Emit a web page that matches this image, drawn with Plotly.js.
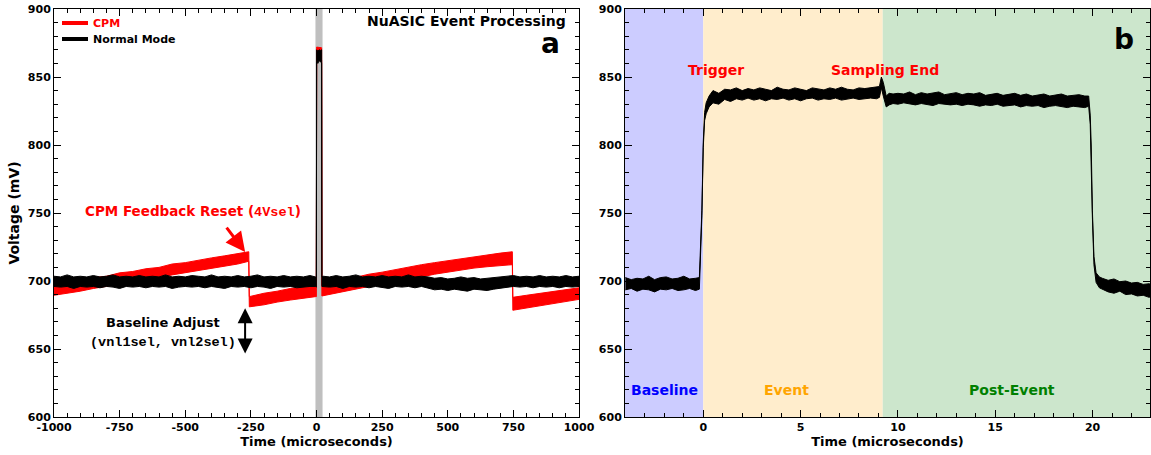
<!DOCTYPE html>
<html><head><meta charset="utf-8">
<script src="https://cdn.plot.ly/plotly-3.0.1.min.js"></script>
<style>html,body{margin:0;padding:0;background:#fff}#chart{width:1151px;height:455px}</style>
</head><body><div id="chart"></div>
<script>
// ---------- Panel a : CPM vs Normal Mode (noise band edges, mV) ----------
const normT = [-1000,-975,-950,-925,-900,-875,-850,-825,-800,-775,-750,-725,-700,-675,-650,-625,-600,-575,-550,-525,-500,-475,-450,-425,-400,-375,-350,-325,-300,-275,-250,-225,-200,-175,-150,-125,-100,-75,-50,-25,
  -4,-0.5,0.5,5,10,15,19.5,20.5,
  25,50,75,100,125,150,175,200,225,250,275,300,325,350,375,400,425,450,475,500,525,550,575,600,625,650,675,700,725,750,775,800,825,850,875,900,925,950,975,1000];
const normHi = [703.5,703,704.5,703,703.5,703,704,703,703.5,704.5, 703,703.5,703,704,703,703.5,703,704.5,703,703.5, 703,704,703.5,703,704.5,703,703.5,703,704,703, 703.5,704.5,703,703.5,703,704,703,703.5,703,704,
  703,703.5,870,869,870,869.5,870,703,
  703.5,703,704,703,703.5,704.5,703,703.5,703,704, 703,703.5,703,704.5,703,703.5,703,702,702.5,701.5, 702,703,702,702.5,701.5,702,702.5,703,703.5,704, 703,703.5,703,704,703,703.5,703,704,703,703.5];
const normLo = [696,695.5,696,694.5,696,695.5,696,695,696,695.5, 694.5,696,695.5,696,695,696,695.5,696,694.5,695.5, 696,695.5,696,695,696,695.5,694.5,696,695.5,696, 695,696,695.5,694.5,696,695.5,696,695,695.5,696,
  696,695.5,861,860,862,861,860.5,696,
  696,695.5,696,694.5,696,695.5,696,695,696,695.5, 694.5,696,695.5,696,695,696,695,693.5,694,693, 694,693.5,692.5,694,693.5,693,694,695,695.5,696, 695.5,696,695,696,695.5,696,695,696,695.5,696];

const cpmT  = [-1000,-950,-900,-850,-800,-750,-700,-650,-600,-550,-500,-450,-400,-350,-300,-258,
  -256,-200,-150,-100,-50,-4,-0.5,0.5,10,19.5,20.5,50,100,150,200,250,300,350,400,450,500,550,600,650,700,746,
  748,800,850,900,950,1000];
const cpmHi = [697,699.5,700,702.5,703.5,706,707,709,710,712.5,713.5,715.5,717,718.5,720,721.5,
  688.5,691,692.5,694.5,695.5,696.5,696.5,872,872,871.5,697,699,700.5,703,705,706.5,708.5,710,712,713.5,715,716.5,717.5,719.5,720.5,721.5,
  688,689.5,691,692.5,694,695];
const cpmLo = [689.5,691,692.5,694.5,696,698,699.5,701,702.5,704.5,706,707.5,709.5,711,712.5,714.5,
  681,682.5,684.5,686,687.5,688.5,688.5,863,862,862.5,689,690.5,692.5,694,696,698,699.5,701.5,703,705,707,708,709.5,710.5,711.5,712,
  678.5,680,681.5,683.5,685,686.5];

const aTickVals = [-1000,-750,-500,-250,0,250,500,750,1000];
const aTickText = ['-1000','-750','-500','-250','0','250','500','750','1000'];

// ---------- Panel b : single event trace (noise band edges, mV) ----------
const evT = [-4.0,-3.7,-3.4,-3.1,-2.8,-2.5,-2.2,-1.9,-1.6,-1.3,-1.0,-0.7,-0.4,-0.2,
  -0.07,0.0,0.07,0.15,0.3,0.5,
  0.8,1.1,1.4,1.7,2.0,2.3,2.6,2.9,3.2,3.5,3.8,4.1,4.4,4.7,5.0,5.3,5.6,5.9,6.2,6.5,6.8,7.1,7.4,7.7,8.0,8.3,8.6,8.9,
  9.05,9.15,9.25,9.4,9.55,9.75,
  10.0,10.3,10.6,10.9,11.2,11.5,11.8,12.1,12.4,12.7,13.0,13.3,13.6,13.9,14.2,14.5,14.8,15.1,15.4,15.7,16.0,16.3,16.6,16.9,17.2,17.5,17.8,18.1,18.4,18.7,19.0,19.3,19.6,
  19.8,19.88,19.93,19.99,20.07,20.18,20.35,20.5,
  20.8,21.1,21.4,21.7,22.0,22.3,22.6,22.9,23.0];
const evHi = [702.5,701,702,701.5,703.5,701,702.5,703,701.5,702,703.5,701.5,702,702.5,
  752,802,824,831,836,840,
  838,841,840.5,842,840,841.5,840.5,842,841,840,842.5,841,840.5,842,841,840,842,841.5,840.5,842,841,842.5,841,840.5,842,841.5,842,842.5,
  843,850,846,836,838,837.5,
  838,837.5,839,837,838.5,837.5,838,839,837,837.5,838.5,837,838,837.5,838.5,836.5,837.5,838,836.5,837,838,836.5,837.5,836,837,837.5,836,836.5,837.5,836,836.5,837,836,
  836,822,800,752,718,706,703,702,
  700.5,701.5,699.5,700,698.5,699,697.5,698,697.5];
const evLo = [693.5,694.5,692.5,694,693.5,692,694,693.5,694.5,693,693.5,694.5,693,694,
  748,798,818,823,828,831,
  830,833.5,832,834,833,834.5,833,834,832.5,834,833.5,834.5,833,834,832.5,834,834.5,833,834,833.5,834.5,833,834,834.5,833.5,834,834.5,834,
  835,842,836,828,829.5,830.5,
  830,831,830.5,829.5,830.5,830,829,830.5,830,829.5,830,829,830,829.5,828.5,829.5,829,830,828.5,829,829.5,828,829,828.5,829,827.5,828.5,829,828,827.5,828.5,828,827.5,
  828.5,815,795,747,712,699,695,694,
  692,691,692.5,690,690.5,689,689.5,688,688.5];

const phaseNames = ['Baseline','Event','Post-Event'];
const phaseStart = [-4.5, 0, 9.22];
const phaseEnd   = [0, 9.22, 24];
const eventWindow = [-4, 23];   // panel-b span shown as grey band in panel a

// ---------- build ----------
function band(t, hi, lo, color, xa, ya) {
  return {
    x: t.concat(t.slice().reverse()),
    y: hi.concat(lo.slice().reverse()),
    type: 'scatter', mode: 'lines', fill: 'toself', fillcolor: color,
    line: {color: color, width: 1}, xaxis: xa, yaxis: ya,
    showlegend: false, hoverinfo: 'skip'
  };
}
const traces = [
  band(cpmT, cpmHi, cpmLo, '#ff0000', 'x', 'y'),
  band(normT, normHi, normLo, '#000000', 'x', 'y'),
  band(evT, evHi, evLo, '#000000', 'x2', 'y2')
];

const FONT = 'DejaVu Sans';
const W = 1151, H = 455;
const px = v => v / W, py = v => 1 - v / H;

function axisBase() {
  return {
    showline: true, linecolor: 'black', linewidth: 1, mirror: 'allticks',
    ticks: 'inside', ticklen: 7, tickwidth: 1, tickcolor: 'black',
    showgrid: false, zeroline: false, automargin: false,
    tickfont: {family: FONT, size: 11, weight: 'bold', color: 'black'},
    minor: {ticks: 'inside', ticklen: 4, tickwidth: 1, tickcolor: 'black', showgrid: false}
  };
}
const yDom = [38 / H, 446 / H];
const xTitle = () => ({text: 'Time (microseconds)', standoff: 2, font: {family: FONT, size: 13, weight: 'bold', color: 'black'}});
const xaxis = Object.assign(axisBase(), {
  domain: [54 / W, 579 / W], range: [-1000, 1000], anchor: 'y',
  tickmode: 'array', tickvals: aTickVals, ticktext: aTickText, title: xTitle()
});
xaxis.minor.tick0 = 0; xaxis.minor.dtick = 50;
const yaxis = Object.assign(axisBase(), {
  domain: yDom, range: [600, 900], anchor: 'x', tick0: 600, dtick: 50,
  title: {text: 'Voltage (mV)', standoff: 4, font: {family: FONT, size: 14, weight: 'bold', color: 'black'}}
});
yaxis.minor.dtick = 10;
const xaxis2 = Object.assign(axisBase(), {
  domain: [625 / W, 1150 / W], range: [-4.02, 22.95], anchor: 'y2', tick0: 0, dtick: 5, title: xTitle()
});
xaxis2.minor.tick0 = 0; xaxis2.minor.dtick = 1;
const yaxis2 = Object.assign(axisBase(), {
  domain: yDom, range: [600, 900], anchor: 'x2', tick0: 600, dtick: 50
});
yaxis2.minor.dtick = 10;

const phaseColors = ['rgb(204,204,255)', 'rgb(255,237,204)', 'rgb(204,230,204)'];
const phaseText = ['#0000ff', '#ffa500', '#008000'];

const shapes = [
  {type: 'rect', xref: 'x', yref: 'y domain', x0: eventWindow[0], x1: eventWindow[1], y0: 0, y1: 1,
   fillcolor: '#bfbfbf', line: {width: 0}, layer: 'below'},
  {type: 'line', xref: 'paper', yref: 'paper', x0: px(62), x1: px(88), y0: py(23), y1: py(23), line: {color: '#ff0000', width: 4}},
  {type: 'line', xref: 'paper', yref: 'paper', x0: px(62), x1: px(88), y0: py(39), y1: py(39), line: {color: '#000000', width: 4}}
];
phaseNames.forEach((n, i) => shapes.push({
  type: 'rect', xref: 'x2', yref: 'y2 domain', x0: phaseStart[i], x1: phaseEnd[i], y0: 0, y1: 1,
  fillcolor: phaseColors[i], line: {width: 0}, layer: 'below'
}));

const bold = (size, color, fam) => ({family: fam || FONT, size: size, weight: 'bold', color: color || 'black'});
const annotations = [
  {xref: 'paper', yref: 'paper', x: px(568), y: py(21), xanchor: 'right', yanchor: 'middle', showarrow: false,
   text: 'NuASIC Event Processing', font: bold(14)},
  {xref: 'paper', yref: 'paper', x: px(550), y: py(44), xanchor: 'center', yanchor: 'middle', showarrow: false,
   text: 'a', font: bold(28)},
  {xref: 'paper', yref: 'paper', x: px(1124), y: py(39), xanchor: 'center', yanchor: 'middle', showarrow: false,
   text: 'b', font: bold(28)},
  {xref: 'paper', yref: 'paper', x: px(91), y: py(23), xanchor: 'left', yanchor: 'middle', showarrow: false,
   text: 'CPM', font: bold(11, '#ff0000')},
  {xref: 'paper', yref: 'paper', x: px(91), y: py(39), xanchor: 'left', yanchor: 'middle', showarrow: false,
   text: 'Normal Mode', font: bold(11)},
  {xref: 'paper', yref: 'paper', x: px(193), y: py(211), xanchor: 'center', yanchor: 'middle', showarrow: false,
   text: 'CPM Feedback Reset (<span style="font-family:Liberation Mono">4Vsel</span>)', font: bold(13.5, '#ff0000')},
  {xref: 'x', yref: 'y', x: -272, y: 721.3, ax: -22, ay: -29, text: ' ', showarrow: true,
   arrowcolor: '#ff0000', arrowwidth: 3, arrowhead: 2, arrowsize: 1.3},
  {xref: 'paper', yref: 'paper', x: px(163), y: py(322), xanchor: 'center', yanchor: 'middle', showarrow: false,
   text: 'Baseline Adjust', font: bold(13)},
  {xref: 'paper', yref: 'paper', x: px(163), y: py(342), xanchor: 'center', yanchor: 'middle', showarrow: false,
   text: '(vnl1sel, vnl2sel)', font: bold(13.5, 'black', 'Liberation Mono')},
  {xref: 'x', yref: 'y', x: -272, y: 680, axref: 'x', ayref: 'y', ax: -272, ay: 645.5, text: '', showarrow: true,
   arrowcolor: '#000000', arrowwidth: 2, arrowhead: 2, startarrowhead: 2, arrowside: 'end+start', arrowsize: 1.5, startarrowsize: 1.5},
  {xref: 'x2', yref: 'y2', x: 0.66, y: 855, showarrow: false, text: 'Trigger', font: bold(14, '#ff0000')},
  {xref: 'x2', yref: 'y2', x: 9.34, y: 855, showarrow: false, text: 'Sampling End', font: bold(14, '#ff0000')}
];
const phaseLabelX = [-2.0, 4.3, 15.86];
phaseNames.forEach((n, i) => annotations.push({
  xref: 'x2', yref: 'y2', x: phaseLabelX[i], y: 620, showarrow: false, text: n, font: bold(14, phaseText[i])
}));

const layout = {
  width: W, height: H, margin: {l: 0, r: 0, t: 0, b: 0},
  paper_bgcolor: 'white', plot_bgcolor: 'rgba(0,0,0,0)', showlegend: false,
  font: {family: FONT, color: 'black'},
  xaxis: xaxis, yaxis: yaxis, xaxis2: xaxis2, yaxis2: yaxis2,
  shapes: shapes, annotations: annotations
};
Plotly.newPlot('chart', traces, layout, {staticPlot: true, displayModeBar: false});
</script></body></html>
